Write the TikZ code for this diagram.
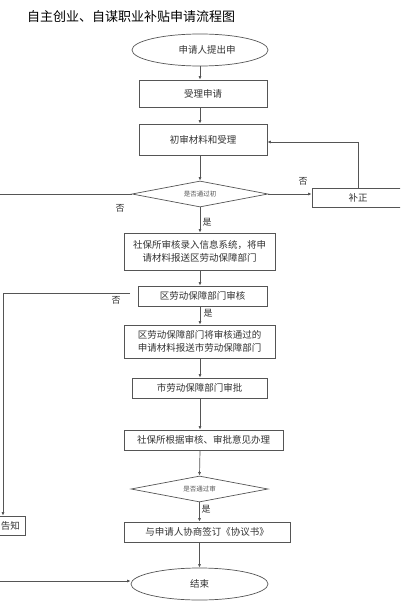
\documentclass[tikz,border=0pt]{standalone}
\usepackage{fontspec}
\setmainfont{Noto Sans CJK SC}
\usetikzlibrary{shapes.geometric,arrows.meta}
\definecolor{ln}{HTML}{555555}
\definecolor{tx}{HTML}{333333}
\tikzset{
  box/.style={draw=ln, line width=0.7pt, rectangle, inner sep=0pt, font=\fontsize{9.5}{13}\selectfont, text=tx, align=center},
  oval/.style={draw=ln, line width=0.7pt, ellipse, inner sep=0pt, font=\fontsize{9.5}{12}\selectfont, text=tx},
  dia/.style={draw=ln, line width=0.7pt, diamond, inner sep=0pt, font=\fontsize{6.5}{8}\selectfont, text=ln},
  conn/.style={draw=ln, line width=0.7pt},
  arr/.style={conn, -{Latex[length=3.5pt,width=3pt]}},
  lab/.style={font=\fontsize{9}{10}\selectfont, text=tx, inner sep=0pt}
}
\begin{document}
\begin{tikzpicture}[x=1pt,y=-1pt]
\useasboundingbox (0,0) rectangle (400,607);
\clip (0,0) rectangle (400,607);
\fill[white] (0,0) rectangle (400,607);
\node[anchor=west, font=\fontsize{13}{14}\selectfont, inner sep=0pt] (title) at (27,17) {自主创业、自谋职业补贴申请流程图};

\node[oval, minimum width=136pt, minimum height=32pt] (e1) at (200,50) {\hspace{14pt}申请人提出申};
\node[box, minimum width=128pt, minimum height=27pt] (b1) at (203,93.5) {受理申请};
\node[box, minimum width=128pt, minimum height=31pt] (b2) at (203,139.5) {初审材料和受理};
\node[dia, minimum width=136pt, minimum height=26pt, aspect=5.2] (d1) at (200,194) {是否通过初};
\node[box, minimum width=92pt, minimum height=19pt] (bz) at (358,197.5) {补正};
\node[box, minimum width=151pt, minimum height=37pt] (b3) at (199.5,251.5) {社保所审核录入信息系统，将申\\请材料报送区劳动保障部门};
\node[box, minimum width=129pt, minimum height=20pt] (b4) at (202.5,296) {区劳动保障部门审核};
\node[box, minimum width=151pt, minimum height=33pt] (b5) at (199.5,341.5) {区劳动保障部门将审核通过的\\申请材料报送市劳动保障部门};
\node[box, minimum width=135pt, minimum height=20pt] (b6) at (199.5,388) {市劳动保障部门审批};
\node[box, minimum width=159pt, minimum height=20pt] (b7) at (203.5,440) {社保所根据审核、审批意见办理};
\node[dia, minimum width=137pt, minimum height=26pt, aspect=5.2] (d2) at (199.5,489) {是否通过审};
\node[box, minimum width=166pt, minimum height=20pt] (b8) at (207,532) {与申请人协商签订《协议书》};
\node[oval, minimum width=137pt, minimum height=32pt] (e2) at (199.5,584) {结束};
\node[box, minimum width=29pt, minimum height=19pt] (gz) at (10.5,525.5) {告知};

\coordinate (L1) at (0,194);
\coordinate (L2) at (130,293);
\coordinate (L3) at (3,293);
\coordinate (L4) at (0,581);
\coordinate (R1) at (358,142);

\draw[arr] (e1.south) -- (e1.south |- b1.north);
\draw[arr] (e1.south |- b1.south) -- (e1.south |- b2.north);
\draw[arr] (e1.south |- b2.south) -- (d1.north);
\draw[conn] (d1.west) -- (L1);
\draw[arr] (d1.east) -- (bz.west |- d1.east);
\draw[arr] (bz.north -| R1) -- (R1) -- (R1 -| b2.east);
\draw[arr] (d1.south) -- (d1.south |- b3.north);
\draw[arr] (d1.south |- b3.south) -- (d1.south |- b4.north);
\draw[conn] (L2) -- (L3);
\draw[arr] (L3) -- (L3 |- gz.north);
\draw[arr] (d1.south |- b4.south) -- (d1.south |- b5.north);
\draw[arr] (d1.south |- b5.south) -- (d1.south |- b6.north);
\draw[arr] (d1.south |- b6.south) -- (d1.south |- b7.north);
\draw[arr] (d1.south |- b7.south) -- (d2.north);
\draw[arr] (d2.south) -- (d2.south |- b8.north);
\draw[arr] (d2.south |- b8.south) -- (e2.north);
\draw[arr] (L4) -- (L4 -| e2.west);

\node[lab] (n1) at (120,208) {否};
\node[lab] (n2) at (303,181) {否};
\node[lab] (y1) at (207,222) {是};
\node[lab] (n3) at (116,300) {否};
\node[lab] (y2) at (208,313) {是};
\node[lab] (y3) at (206,509) {是};
\end{tikzpicture}
\end{document}
